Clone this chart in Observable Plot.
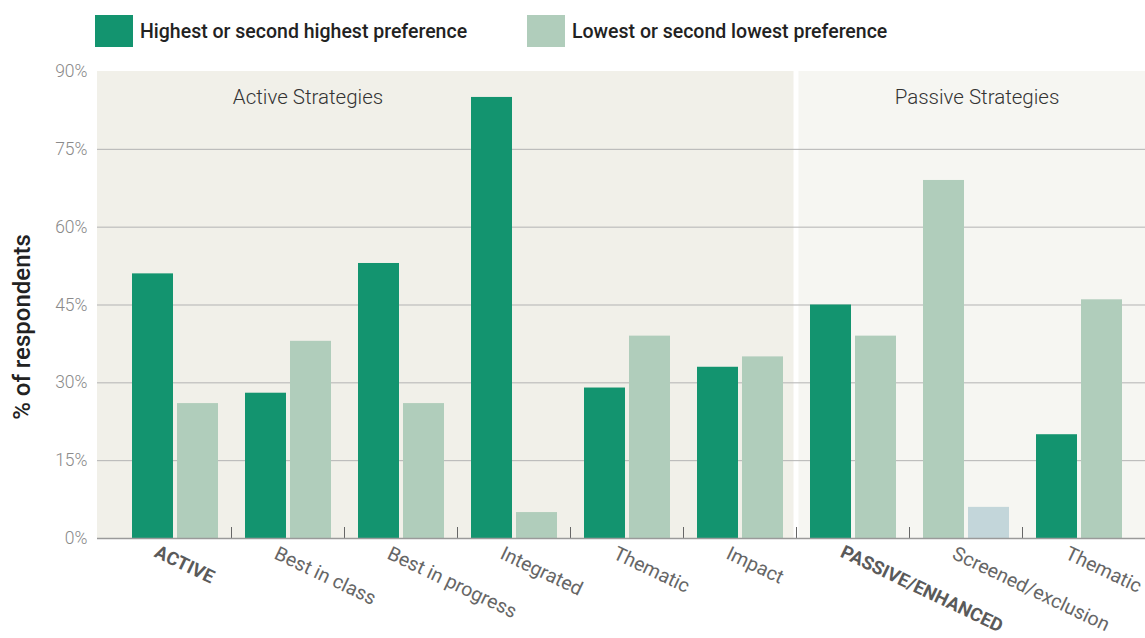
<!DOCTYPE html>
<html>
<head>
<meta charset="utf-8">
<script src="https://cdn.jsdelivr.net/npm/d3@7"></script>
<script src="https://cdn.jsdelivr.net/npm/@observablehq/plot@0.6"></script>
<style>
  html, body { margin: 0; padding: 0; background: #fff; }
  body { font-family: Roboto, "Noto Sans", sans-serif; width: 1145px; overflow: hidden; }
  .legend { height: 56px; position: relative; }
  .legend .item { position: absolute; top: 15px; display: flex; align-items: center; }
  .legend .swatch { width: 38px; height: 32px; margin-right: 7px; }
  .legend .label { font-size: 19.5px; font-weight: 500; color: #222; }
</style>
</head>
<body>
<div class="legend" id="legend"></div>
<div id="chart"></div>
<script>
// Strategy categories, left to right
const categories = ["ACTIVE", "Best in class", "Best in progress", "Integrated", "Thematic", "Impact",
                    "PASSIVE/ENHANCED", "Screened/exclusion", "Thematic"];
// Section headers among the categories (drawn in bold)
const headers = ["ACTIVE", "PASSIVE/ENHANCED"];
// % of respondents ranking the strategy highest or second highest
const highest = [51, 28, 53, 85, 29, 33, 45, 69, 20];
// % of respondents ranking the strategy lowest or second lowest
const lowest = [26, 38, 26, 5, 39, 35, 39, 6, 46];
// Strategy groups: name and index range of categories
const sectionNames = ["Active Strategies", "Passive Strategies"];
const sectionFirst = [0, 6];
const sectionLast = [5, 8];
// Value axis ticks
const yTicks = [0, 15, 30, 45, 60, 75, 90];
const seriesNames = ["Highest or second highest preference", "Lowest or second lowest preference"];

const colors = {high: "#13946f", low: "#b0cdbb", alt: "#c3d6da"};
const sectionFills = ["#f1f0e9", "#f6f6f2"];

// category keys (two categories share the label "Thematic")
const keys = categories.map((_, i) => String(i));
const rows = keys.map((k, i) => ({key: k, label: categories[i], high: highest[i], low: lowest[i]}));

// Legend
const legend = document.getElementById("legend");
[[seriesNames[0], colors.high, 95], [seriesNames[1], colors.low, 527]].forEach(([name, c, left]) => {
  const item = document.createElement("div");
  item.className = "item";
  item.style.left = left + "px";
  item.innerHTML = `<div class="swatch" style="background:${c}"></div><div class="label">${name}</div>`;
  legend.appendChild(item);
});

// Section backgrounds, placed with the chart's scales
function backdrop(index, scales, values, dimensions) {
  const g = d3.create("svg:g");
  const x = scales.x, y = scales.y;
  const bw = x(keys[1]) - x(keys[0]);
  const left = dimensions.marginLeft, right = dimensions.width - dimensions.marginRight;
  const gap = 2.5;
  sectionNames.forEach((name, s) => {
    const x1 = s === 0 ? left : x(keys[sectionFirst[s]]) + gap;
    const x2 = s === sectionNames.length - 1 ? right : x(keys[sectionLast[s]]) + bw - gap;
    g.append("rect")
      .attr("x", x1).attr("width", x2 - x1)
      .attr("y", y(90)).attr("height", y(0) - y(90))
      .attr("fill", sectionFills[s]);
  });
  return g.node();
}
// Short ticks separating the category groups
function separators(index, scales) {
  const g = d3.create("svg:g");
  const x = scales.x, y = scales.y;
  const bw = x(keys[1]) - x(keys[0]);
  keys.slice(0, -1).forEach(k => {
    const xs = Math.round(x(k) + bw) + 0.5;
    g.append("line").attr("x1", xs).attr("x2", xs)
      .attr("y1", y(0)).attr("y2", y(0) - 11)
      .attr("stroke", "#666").attr("stroke-width", 1);
  });
  return g.node();
}

const isScreened = d => d.label === "Screened/exclusion";
const headerLabel = {frameAnchor: "bottom", rotate: 25.5, textAnchor: "start", lineAnchor: "top",
  dy: 6, fontSize: 18.5, fontWeight: 700, fill: "#5a5a5a"};

const chart = Plot.plot({
  width: 1145,
  height: 582,
  marginLeft: 97,
  marginRight: 0,
  marginTop: 15,
  marginBottom: 100,
  style: {fontFamily: "Roboto, sans-serif", background: "transparent"},
  x: {domain: keys, paddingInner: 0, paddingOuter: 0.133, align: 0.667, axis: null},
  y: {domain: [0, 90], axis: null},
  marks: [
    backdrop,
    Plot.ruleY(yTicks.filter(t => t > 0 && t < 90), {stroke: "#b3b3b3", strokeWidth: 1}),
    Plot.barY(rows, {x: "key", y: "high", fill: d => isScreened(d) ? colors.low : colors.high,
      insetLeft: 14, insetRight: 58}),
    Plot.barY(rows, {x: "key", y: "low", fill: d => isScreened(d) ? colors.alt : colors.low,
      insetLeft: 59, insetRight: 13}),
    separators,
    Plot.ruleY([0], {stroke: "#9a9a9a", strokeWidth: 1.5}),
    Plot.axisY(yTicks, {tickSize: 0, tickPadding: 10, tickFormat: d => d + "%",
      fontSize: 17.5, fontWeight: 300, fill: "#8a8a8a", label: null}),
    // section titles
    Plot.text([sectionNames[0]], {x: () => keys[1], frameAnchor: "top", dy: 18, dx: 20,
      fontSize: 20.5, fontWeight: 300, fill: "#333"}),
    Plot.text([sectionNames[1]], {x: () => keys[7], frameAnchor: "top", dy: 18, dx: 11,
      fontSize: 20.5, fontWeight: 300, fill: "#333"}),
    // category labels
    Plot.text(rows.filter(d => !headers.includes(d.label)), {x: "key", text: "label",
      frameAnchor: "bottom", rotate: 25.5, textAnchor: "start", lineAnchor: "top",
      dx: -9, dy: 7, fontSize: 19.5, fill: "#666"}),
    Plot.text(rows.filter(d => d.label === headers[0]), {x: "key", text: "label", ...headerLabel, dx: -16}),
    Plot.text(rows.filter(d => d.label === headers[1]), {x: "key", text: "label", ...headerLabel, dx: -8}),
    // value axis title
    Plot.text(["% of respondents"], {frameAnchor: "left", rotate: -90, textAnchor: "middle",
      dx: -75, dy: 22, fontSize: 24, fontWeight: 500, fill: "#222"})
  ]
});
document.getElementById("chart").appendChild(chart);
</script>
</body>
</html>
